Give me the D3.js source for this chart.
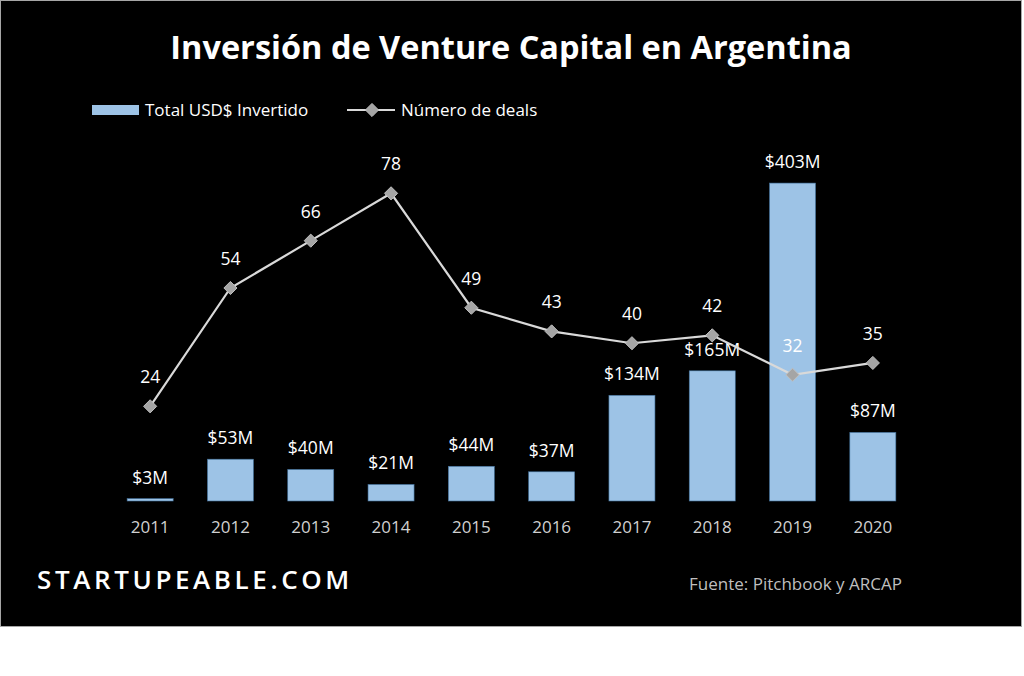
<!DOCTYPE html>
<html>
<head>
<meta charset="utf-8">
<script src="https://cdn.jsdelivr.net/npm/d3@7"></script>
<style>
  body { margin: 0; background: #fff; overflow: hidden; }
  svg { display: block; }
  text { font-family: "Open Sans", "Noto Sans", sans-serif; }
</style>
</head>
<body>
<div id="chart"></div>
<script>
// Data
const years = ["2011", "2012", "2013", "2014", "2015", "2016", "2017", "2018", "2019", "2020"];
const invested = [3, 53, 40, 21, 44, 37, 134, 165, 403, 87]; // USD millions
const deals = [24, 54, 66, 78, 49, 43, 40, 42, 32, 35];

// Colours
const barBlue = "#9DC3E6";
const barEdge = "#41719C";
const lineGrey = "#D9D9D9";
const markerGrey = "#A5A5A5";

const width = 1024;
const height = 676;
const margin = {top: 146, left: 110, right: 111, bottom: 175};
const innerWidth = width - margin.left - margin.right;
const innerHeight = height - margin.top - margin.bottom;

const svg = d3.select("#chart")
  .append("svg")
    .attr("width", width)
    .attr("height", height);

// Black frame
svg.append("rect")
  .attr("x", 0.5).attr("y", 0.5)
  .attr("width", 1021).attr("height", 626)
  .attr("fill", "#000")
  .attr("stroke", "#A6A6A6");

// Title
svg.append("text")
  .attr("x", 511).attr("y", 59)
  .attr("text-anchor", "middle")
  .attr("fill", "#fff")
  .style("font-size", "32.5px")
  .style("font-weight", 700)
  .text("Inversión de Venture Capital en Argentina");

const innerChart = svg.append("g")
  .attr("transform", `translate(${margin.left}, ${margin.top})`);

// Scales
const xScale = d3.scaleBand()
  .domain(years)
  .range([0, innerWidth])
  .paddingInner(0.427)
  .paddingOuter(0.2135);
const yBar = d3.scaleLinear().domain([0, 450]).range([innerHeight, 0]);
const yLine = d3.scaleLinear().domain([0, 90]).range([innerHeight, 0]);

const cx = d => xScale(d) + xScale.bandwidth() / 2;

// Bars
innerChart.selectAll(".bar")
  .data(invested)
  .join("rect")
    .attr("class", "bar")
    .attr("x", (d, i) => xScale(years[i]))
    .attr("y", d => yBar(d))
    .attr("width", xScale.bandwidth())
    .attr("height", d => innerHeight - yBar(d))
    .attr("fill", barBlue)
    .attr("stroke", barEdge)
    .attr("stroke-width", 0.6);

// Bar labels
innerChart.selectAll(".bar-label")
  .data(invested)
  .join("text")
    .attr("class", "bar-label")
    .attr("x", (d, i) => cx(years[i]))
    .attr("y", d => yBar(d) - 15)
    .attr("text-anchor", "middle")
    .attr("fill", "#fff")
    .style("font-size", "17.5px")
    .text(d => `$${d}M`);

// Line
const line = d3.line()
  .x((d, i) => cx(years[i]))
  .y(d => yLine(d));

innerChart.append("path")
  .datum(deals)
  .attr("d", line)
  .attr("fill", "none")
  .attr("stroke", lineGrey)
  .attr("stroke-width", 2.2);

const diamond = d3.symbol().type(d3.symbolDiamond2).size(110);

innerChart.selectAll(".marker")
  .data(deals)
  .join("path")
    .attr("class", "marker")
    .attr("d", diamond)
    .attr("transform", (d, i) => `translate(${cx(years[i])}, ${yLine(d)})`)
    .attr("fill", markerGrey)
    .attr("stroke", "#BFBFBF")
    .attr("stroke-width", 1);

innerChart.selectAll(".deal-label")
  .data(deals)
  .join("text")
    .attr("class", "deal-label")
    .attr("x", (d, i) => cx(years[i]))
    .attr("y", d => yLine(d) - 23)
    .attr("text-anchor", "middle")
    .attr("fill", "#fff")
    .style("font-size", "17.5px")
    .text(d => d);

// X axis (labels only)
const bottomAxis = d3.axisBottom(xScale).tickSize(0).tickPadding(20);
const xAxis = innerChart.append("g")
  .attr("transform", `translate(0, ${innerHeight})`)
  .call(bottomAxis);
xAxis.select(".domain").remove();
xAxis.selectAll("text")
  .attr("fill", "#D0D0D0")
  .style("font-size", "17px")
  .style("font-family", "'Open Sans', sans-serif");

// Legend
const legend = svg.append("g");
legend.append("rect")
  .attr("x", 92).attr("y", 105)
  .attr("width", 47).attr("height", 10)
  .attr("fill", barBlue);
legend.append("text")
  .attr("x", 145).attr("y", 116)
  .attr("fill", "#fff")
  .style("font-size", "17px")
  .text("Total USD$ Invertido");
legend.append("line")
  .attr("x1", 347).attr("x2", 395)
  .attr("y1", 110).attr("y2", 110)
  .attr("stroke", lineGrey)
  .attr("stroke-width", 2.2);
legend.append("path")
  .attr("d", diamond)
  .attr("transform", "translate(372, 110)")
  .attr("fill", markerGrey)
  .attr("stroke", "#BFBFBF");
legend.append("text")
  .attr("x", 401).attr("y", 116)
  .attr("fill", "#fff")
  .style("font-size", "17px")
  .text("Número de deals");

// Footer
svg.append("text")
  .attr("x", 37).attr("y", 589)
  .attr("fill", "#fff")
  .style("font-size", "26px")
  .style("font-weight", 600)
  .style("letter-spacing", "3.6px")
  .text("STARTUPEABLE.COM");

svg.append("text")
  .attr("x", 689).attr("y", 590)
  .attr("fill", "#BFBFBF")
  .style("font-size", "17px")
  .text("Fuente: Pitchbook y ARCAP");
</script>
</body>
</html>
